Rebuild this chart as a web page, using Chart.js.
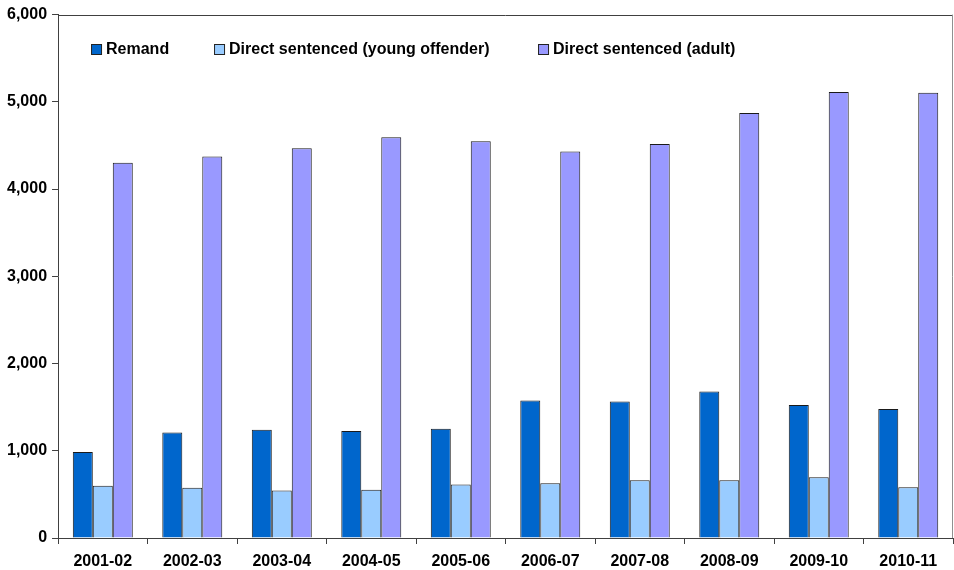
<!DOCTYPE html>
<html lang="en">
  <head>
    <meta charset="utf-8" />
    <title>Receptions by type</title>
    <style>
      * {
        margin: 0;
        padding: 0;
      }
      body {
        background: #fff;
      }
      .chartBox {
        width: 954px;
        height: 570px;
      }
    </style>
  </head>
  <body>
    <div class="chartBox">
      <canvas id="myChart"></canvas>
    </div>
    <script src="https://cdn.jsdelivr.net/npm/chart.js/dist/chart.umd.min.js"></script>
    <script>
      const years = [
        "2001-02", "2002-03", "2003-04", "2004-05", "2005-06",
        "2006-07", "2007-08", "2008-09", "2009-10", "2010-11",
      ];
      const remand = [985, 1210, 1242, 1226, 1253, 1577, 1566, 1680, 1524, 1478];
      const youngOffender = [598, 575, 545, 552, 613, 629, 663, 663, 697, 583];
      const adult = [4301, 4374, 4469, 4594, 4549, 4431, 4518, 4872, 5112, 5105];
      const yTicks = [0, 1000, 2000, 3000, 4000, 5000, 6000];

      const FONT = { family: "'Liberation Sans', Arial, sans-serif", size: 16, weight: "bold" };

      // legend drawn inside the plot area, Excel style
      const insideLegend = {
        id: "insideLegend",
        afterDraw(chart) {
          const { ctx, chartArea } = chart;
          const offsets = [33, 156, 480];
          ctx.save();
          ctx.font = `bold ${FONT.size}px ${FONT.family}`;
          ctx.textBaseline = "middle";
          chart.data.datasets.forEach((ds, i) => {
            const x = chartArea.left + offsets[i];
            const y = 49;
            ctx.fillStyle = ds.backgroundColor;
            ctx.fillRect(x + 0.5, y - 5, 10, 10);
            ctx.strokeStyle = "#222";
            ctx.lineWidth = 1;
            ctx.strokeRect(x + 0.5, y - 5 + 0.5, 10, 10);
            ctx.fillStyle = "#000";
            ctx.fillText(ds.label, x + 15, y + 1);
          });
          ctx.restore();
        },
      };

      // top and right edges of the plot area
      const plotFrame = {
        id: "plotFrame",
        beforeDatasetsDraw(chart) {
          const { ctx, chartArea: a } = chart;
          ctx.save();
          ctx.lineWidth = 1;
          ctx.strokeStyle = "#404040";
          ctx.beginPath();
          ctx.moveTo(a.left, Math.round(a.top) + 0.5);
          ctx.lineTo(a.right, Math.round(a.top) + 0.5);
          ctx.stroke();
          ctx.strokeStyle = "#909090";
          ctx.beginPath();
          ctx.moveTo(Math.round(a.right) - 0.5, a.top);
          ctx.lineTo(Math.round(a.right) - 0.5, a.bottom);
          ctx.stroke();
          ctx.restore();
        },
      };

      const data = {
        labels: years,
        datasets: [
          { label: "Remand", data: remand, backgroundColor: "#0066CC" },
          { label: "Direct sentenced (young offender)", data: youngOffender, backgroundColor: "#99CCFF" },
          { label: "Direct sentenced (adult)", data: adult, backgroundColor: "#9999FF" },
        ].map((ds) => ({
          ...ds,
          borderColor: "#1a1a1a",
          borderWidth: 1,
          barPercentage: 1,
          categoryPercentage: 0.67,
        })),
      };

      const config = {
        type: "bar",
        data,
        plugins: [plotFrame, insideLegend],
        options: {
          responsive: true,
          maintainAspectRatio: false,
          animation: false,
          layout: { padding: { top: 5, right: 1, left: 2, bottom: 0 } },
          plugins: {
            legend: { display: false },
            tooltip: { enabled: false },
          },
          scales: {
            x: {
              afterFit(axis) {
                axis.height = 32;
              },
              grid: {
                offset: true,
                drawOnChartArea: false,
                tickLength: 6,
                color: "#404040",
              },
              border: { color: "#404040", width: 1 },
              ticks: { color: "#000", font: FONT, padding: 8, maxRotation: 0 },
            },
            y: {
              min: 0,
              max: 6000,
              afterBuildTicks(axis) {
                axis.ticks = yTicks.map((v) => ({ value: v }));
              },
              grid: {
                drawOnChartArea: false,
                tickLength: 6,
                color: "#404040",
              },
              border: { color: "#404040", width: 1 },
              ticks: {
                color: "#000",
                font: FONT,
                padding: 5,
                callback: (v) => v.toLocaleString("en-US"),
              },
            },
          },
        },
      };

      new Chart(document.getElementById("myChart"), config);
    </script>
  </body>
</html>
